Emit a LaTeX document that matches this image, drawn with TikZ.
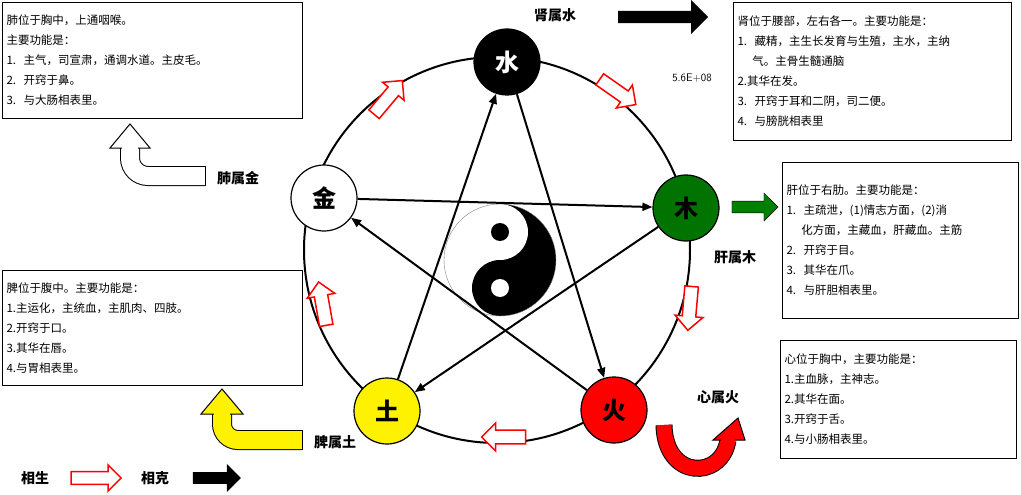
\documentclass[tikz,border=0pt]{standalone}
\usepackage{fontspec}
\setmainfont{Liberation Serif}
\newfontfamily\cjk{Noto Sans CJK SC}
\usetikzlibrary{shapes.arrows,arrows.meta}
\tikzset{
 elem/.style={circle,draw,line width=1.2pt,minimum size=66pt,inner sep=0pt,font=\cjk\fontsize{24}{24}\selectfont\bfseries},
 infobox/.style={draw,line width=1pt,anchor=north west,align=left,inner sep=4pt,font=\cjk\fontsize{11.5}{20}\selectfont},
 lbl/.style={font=\cjk\fontsize{14}{14}\selectfont\bfseries},
 sheng/.style={single arrow,draw=red,line width=1.5pt,fill=white,minimum height=44pt,minimum width=28pt,single arrow head extend=4pt,inner sep=3pt},
 ke/.style={-{Triangle[length=10pt,width=8pt]},line width=2pt},
}
\begin{document}
\begin{tikzpicture}[x=1pt,y=-1pt]
\useasboundingbox (0,0) rectangle (1021,495);
\draw[line width=2pt] (497,250) circle (193);
% yin yang
\begin{scope}[shift={(500,260)}]
 \fill[white] (0,0) circle (56);
 \fill[black] (0,-56) arc (-90:90:56) -- cycle;
 \fill[white] (0,-28) circle (28);
 \fill[black] (0,28) circle (28);
 \fill[black] (0,-28) circle (9);
 \fill[white] (0,28) circle (9);
 \draw[gray,line width=0.4pt] (0,0) circle (56);
\end{scope}
\node[elem,fill=black,text=white] (shui) at (507,62) {水};
\node[elem,fill=green!45!black,text=black] (mu) at (686,208) {木};
\node[elem,fill=red,text=black] (huo) at (614,410) {火};
\node[elem,fill=yellow,text=black] (tu) at (387,411) {土};
\node[elem,fill=white] (jin) at (324,198) {金};
% star (ke)
\draw[ke] (jin) -- (mu);
\draw[ke] (mu) -- (tu);
\draw[ke] (tu) -- (shui);
\draw[ke] (shui) -- (huo);
\draw[ke] (huo) -- (jin);
% sheng arrows
\node[sheng,rotate=50] (s1) at (386,100) {};
\node[sheng,rotate=-35] (s2) at (615,90) {};
\node[sheng,rotate=-95] (s3) at (690,305) {};
\node[sheng,rotate=180] (s4) at (507,437) {};
\node[sheng,rotate=100] (s5) at (323,307) {};
% labels
\node[lbl] (lshui) at (555,15) {肾属水};
\node[single arrow,fill=black,minimum height=90pt,minimum width=34pt,single arrow head extend=4pt,inner sep=2pt] (ashui) at (660,17) {};
\node[font=\fontsize{11}{11}\selectfont\sffamily] (num) at (692,78) {5.6E+08};
\node[lbl] (ljin) at (238,178) {肺属金};
\draw[line width=1pt,double=white,double distance=18pt] (205,176) -- (148,176) arc (90:180:18) -- (130,148);
\draw[line width=1pt] (205,166) -- (205,186);
\filldraw[fill=white,draw=black,line width=1pt] (110,148) -- (150,148) -- (130,124) -- cycle;
\fill[white] (122,146) rectangle (138,152);
\node[lbl] (lmu) at (735,257) {肝属木};
\node[single arrow,draw=black,fill=green!50!black,minimum height=46pt,minimum width=28pt,single arrow head extend=3pt,inner sep=2pt] (amu) at (752,207) {};
\node[lbl] (ltu) at (335,442) {脾属土};
\draw[line width=1pt,double=yellow,double distance=18pt] (302,440) -- (238,440) arc (90:180:16) -- (222,414);
\draw[line width=1pt] (302,430) -- (302,450);
\filldraw[fill=yellow,draw=black,line width=1pt] (201,414) -- (243,414) -- (222,389) -- cycle;
\fill[yellow] (214,412) rectangle (230,418);
\node[lbl] (lhuo) at (718,397) {心属火};
\draw[line width=1pt,double=red,double distance=15pt] (664,425) .. controls (665,480) and (722,480) .. (728,440);
\filldraw[fill=red,draw=black,line width=1pt] (713,440) -- (745,440) -- (738,418) -- cycle;
\fill[red] (721,438) rectangle (735,443);
% legend
\node[lbl] (lsheng) at (35,478) {相生};
\node[sheng,minimum height=50pt,minimum width=26pt] (legs) at (93,478) {};
\node[lbl] (lke) at (155,478) {相克};
\node[single arrow,fill=black,minimum height=48pt,minimum width=28pt,single arrow head extend=3pt,inner sep=2pt] (legk) at (214,478) {};
% info boxes
\node[infobox,text width=292pt,minimum height=116pt] (bjin) at (2,2) {肺位于胸中，上通咽喉。\\主要功能是：\\1.\ \ 主气，司宣肃，通调水道。主皮毛。\\2.\ \ 开窍于鼻。\\3.\ \ 与大肠相表里。};
\node[infobox,text width=270pt,minimum height=138pt] (bshui) at (733,2) {肾位于腰部，左右各一。主要功能是：\\1.\ \ 藏精，主生长发育与生殖，主水，主纳\\\hspace*{1.3em}气。主骨生髓通脑\\2.其华在发。\\3.\ \ 开窍于耳和二阴，司二便。\\4.\ \ 与膀胱相表里};
\node[infobox,text width=228pt,minimum height=156pt] (bmu) at (782,162) {肝位于右肋。主要功能是：\\1.\ \ 主疏泄，(1)情志方面，(2)消\\\hspace*{1.3em}化方面，主藏血，肝藏血。主筋\\2.\ \ 开窍于目。\\3.\ \ 其华在爪。\\4.\ \ 与肝胆相表里。};
\node[infobox,text width=292pt,minimum height=115pt] (btu) at (2,270) {脾位于腹中。主要功能是：\\1.主运化，主统血，主肌肉、四肢。\\2.开窍于口。\\3.其华在唇。\\4.与胃相表里。};
\node[infobox,text width=228pt,minimum height=118pt] (bhuo) at (780,340) {心位于胸中，主要功能是：\\1.主血脉，主神志。\\2.其华在面。\\3.开窍于舌。\\4.与小肠相表里。};
\end{tikzpicture}
\end{document}
